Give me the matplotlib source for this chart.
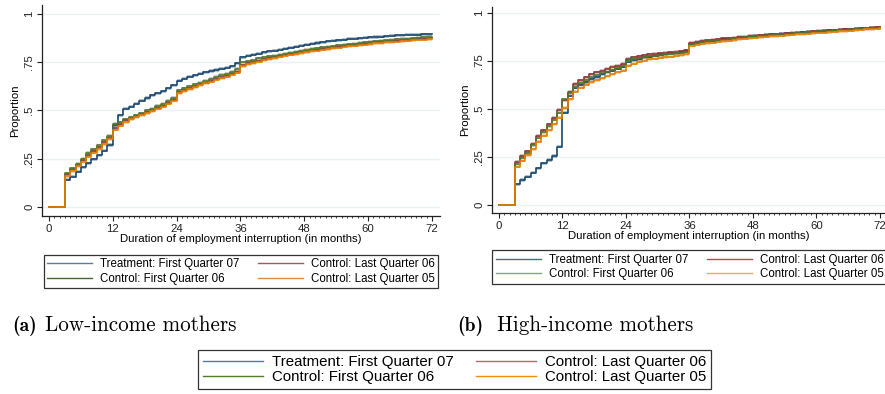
import numpy as np
import matplotlib.pyplot as plt
from matplotlib.lines import Line2D

# -----------------------------
# DATA
# -----------------------------
months = np.arange(0, 73)

series_labels = ["Treatment: First Quarter 07", "Control: Last Quarter 06",
                 "Control: First Quarter 06", "Control: Last Quarter 05"]

x_ticks = [0, 12, 24, 36, 48, 60, 72]
y_ticks = [0, 0.25, 0.5, 0.75, 1]
y_ticklabels = ["0", ".25", ".5", ".75", "1"]

# low-income mothers
low_treat = [0, 0, 0, .140, .157, .183, .205, .226, .247, .269, .292, .321,
             .425, .475, .510, .520, .535, .550, .565, .580, .590, .600, .615, .630,
             .655, .665, .675, .683, .690, .698, .705, .710, .716, .722, .730, .745,
             .777, .783, .789, .795, .801, .806, .811, .816, .821, .826, .831, .836,
             .842, .846, .850, .854, .858, .862, .865, .868, .871, .873, .875, .877,
             .879, .881, .883, .885, .887, .889, .891, .892, .893, .894, .895, .896,
             .897]
low_lq06 = [0, 0, 0, .170, .195, .220, .245, .270, .290, .310, .335, .360,
            .410, .430, .450, .460, .470, .480, .490, .500, .515, .525, .540, .555,
            .595, .605, .615, .625, .635, .645, .655, .665, .672, .680, .690, .700,
            .735, .745, .750, .758, .765, .772, .778, .783, .788, .793, .798, .803,
            .808, .812, .816, .820, .824, .828, .831, .835, .838, .841, .844, .847,
            .850, .853, .855, .858, .860, .862, .865, .867, .869, .871, .873, .875,
            .877]
low_fq06 = [0, 0, 0, .175, .200, .225, .250, .280, .300, .320, .345, .370,
            .430, .440, .455, .465, .475, .485, .500, .510, .525, .535, .550, .565,
            .605, .615, .625, .635, .645, .655, .665, .675, .685, .690, .700, .715,
            .750, .755, .760, .770, .775, .780, .785, .790, .795, .800, .805, .810,
            .815, .820, .823, .827, .830, .834, .838, .841, .844, .847, .850, .853,
            .856, .859, .861, .864, .866, .869, .871, .873, .875, .877, .879, .881,
            .883]
low_lq05 = [0, 0, 0, .160, .185, .210, .235, .260, .280, .300, .325, .350,
            .400, .420, .440, .455, .465, .475, .485, .495, .510, .520, .535, .550,
            .590, .600, .610, .620, .630, .640, .650, .660, .667, .675, .685, .695,
            .730, .740, .746, .753, .760, .766, .772, .778, .783, .788, .793, .798,
            .803, .807, .811, .815, .819, .823, .826, .830, .833, .836, .839, .842,
            .845, .848, .850, .853, .855, .857, .860, .862, .864, .866, .868, .870,
            .872]

# high-income mothers
high_treat = [0, 0, 0, .107, .130, .147, .168, .190, .217, .234, .255, .303,
              .480, .570, .610, .625, .640, .655, .665, .680, .690, .700, .710, .720,
              .745, .755, .760, .768, .773, .778, .782, .785, .790, .790, .795, .800,
              .840, .845, .850, .853, .856, .859, .862, .865, .868, .871, .874, .877,
              .880, .882, .885, .887, .889, .891, .893, .895, .897, .899, .901, .903,
              .905, .907, .909, .911, .913, .914, .916, .918, .919, .921, .922, .924,
              .925]
high_lq06 = [0, 0, 0, .225, .255, .280, .320, .360, .390, .420, .455, .495,
             .545, .590, .630, .650, .665, .680, .690, .700, .710, .720, .725, .735,
             .760, .770, .775, .780, .785, .788, .790, .792, .795, .797, .800, .805,
             .845, .850, .855, .858, .861, .864, .867, .869, .872, .875, .877, .880,
             .882, .884, .886, .888, .890, .892, .894, .896, .898, .900, .902, .904,
             .906, .908, .910, .911, .913, .915, .916, .918, .920, .921, .923, .925,
             .927]
high_fq06 = [0, 0, 0, .215, .245, .270, .310, .350, .380, .410, .445, .480,
             .550, .585, .615, .635, .650, .665, .675, .685, .695, .705, .715, .725,
             .750, .758, .764, .770, .774, .778, .781, .784, .787, .790, .793, .797,
             .840, .845, .849, .852, .855, .858, .861, .864, .867, .870, .873, .876,
             .879, .881, .884, .886, .888, .890, .892, .894, .896, .898, .900, .902,
             .904, .906, .908, .910, .912, .913, .915, .917, .918, .920, .922, .923,
             .925]
high_lq05 = [0, 0, 0, .200, .230, .260, .290, .330, .360, .390, .420, .455,
             .505, .550, .590, .610, .625, .640, .650, .660, .670, .680, .690, .700,
             .725, .735, .745, .752, .758, .762, .766, .770, .773, .776, .780, .785,
             .830, .835, .840, .843, .846, .850, .853, .856, .859, .862, .865, .868,
             .870, .873, .875, .878, .880, .882, .884, .886, .888, .890, .892, .894,
             .896, .898, .900, .902, .904, .906, .908, .910, .912, .914, .916, .918,
             .920]

# -----------------------------
# STYLE
# -----------------------------
line_colors = ["#1a476f", "#90353b", "#55752f", "#e37e00"]
left_leg_colors = ["#5f7d99", "#9a5a5e", "#4a6530", "#d98a3a"]
right_leg_colors = ["#3d6ea3", "#c0474d", "#86a86a", "#f5a54a"]
bottom_leg_colors = ["#4f7ea8", "#b76a6e", "#4e7d2c", "#f28a0a"]
band = 0.008
grid_color = "#eaf2f3"
font = "Liberation Sans"
fs = 8.2

W, H = 885, 394
fig = plt.figure(figsize=(W / 100, H / 100), dpi=100)


def fig_box(x0, y0, x1, y1):
    return [x0 / W, 1 - y1 / H, (x1 - x0) / W, (y1 - y0) / H]


def draw_panel(ax, curves, xlim, ylim):
    for y, c in zip(curves, line_colors):
        y = np.array(y)
        ax.fill_between(months, y - band, y + band, where=y > 0, step="post",
                        color=c, alpha=0.33, lw=0)
        ax.step(months, y, where="post", color=c, lw=1.2)
    ax.set_xlim(*xlim)
    ax.set_ylim(*ylim)
    ax.set_xticks(x_ticks)
    ax.set_xticks(months, minor=True)
    ax.set_yticks(y_ticks)
    ax.set_yticklabels(y_ticklabels, rotation=90, va="center")
    for yv in y_ticks:
        ax.axhline(yv, color=grid_color, lw=1.0, zorder=0)
    for s in ["top", "right"]:
        ax.spines[s].set_visible(False)
    for s in ["left", "bottom"]:
        ax.spines[s].set_color("#222222")
        ax.spines[s].set_linewidth(0.9)
    ax.tick_params(axis="both", which="major", length=3.5, width=0.8,
                   labelsize=fs, pad=2, colors="#222222")
    ax.tick_params(axis="x", which="minor", length=1.6, width=0.6, colors="#222222")
    for lab in ax.get_xticklabels() + ax.get_yticklabels():
        lab.set_family(font)
    ax.set_ylabel("Proportion", family=font, fontsize=fs, labelpad=3)
    ax.set_xlabel("Duration of employment interruption (in months)",
                  family=font, fontsize=fs, labelpad=0.5)


ax1 = fig.add_axes(fig_box(42, 5, 440, 216))
draw_panel(ax1, [low_treat, low_lq06, low_fq06, low_lq05], (-1.3, 73.5), (-0.047, 1.047))

ax2 = fig.add_axes(fig_box(492, 7, 885, 213))
draw_panel(ax2, [high_treat, high_lq06, high_fq06, high_lq05], (-1.32, 72.95), (-0.042, 1.031))


def add_legend(colors, center, size, **kw):
    order = [0, 2, 1, 3]
    handles = [Line2D([], [], color=colors[i], lw=1.0) for i in order]
    labels = [series_labels[i] for i in order]
    leg = fig.legend(handles, labels, ncol=2, loc="center",
                     bbox_to_anchor=(center[0] / W, 1 - center[1] / H),
                     prop={"family": font, "size": size}, fancybox=False,
                     edgecolor="#333333", framealpha=1, **kw)
    leg.get_frame().set_linewidth(0.9)
    return leg


add_legend(left_leg_colors, (241, 271.5), 8.3, handlelength=3.9, handletextpad=0.7,
           columnspacing=1.6, labelspacing=0.25, borderpad=0.3)
add_legend(right_leg_colors, (690, 267), 8.3, handlelength=3.9, handletextpad=0.7,
           columnspacing=1.6, labelspacing=0.25, borderpad=0.35)
add_legend(bottom_leg_colors, (454.5, 369.5), 10.8, handlelength=4.0, handletextpad=0.6,
           columnspacing=1.5, labelspacing=0.1, borderpad=0.3)

# sub captions
cap_y = 1 - 331 / H
fig.text(12 / W, cap_y, "(a)", family="cmb10", fontsize=14, va="baseline")
fig.text(45 / W, cap_y, "Low-income mothers", family="cmr10", fontsize=15.2, va="baseline")
fig.text(457 / W, cap_y, "(b)", family="cmb10", fontsize=14, va="baseline")
fig.text(497 / W, cap_y, "High-income mothers", family="cmr10", fontsize=15.2, va="baseline")

fig.savefig("out.png", dpi=100, facecolor="white")
